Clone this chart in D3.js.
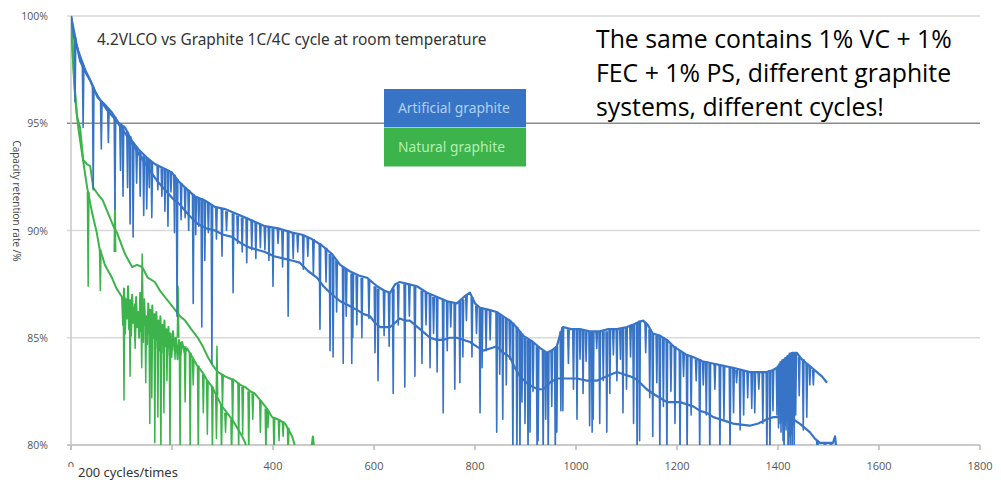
<!DOCTYPE html>
<html>
<head>
  <meta charset="utf-8">
  <script src="https://d3js.org/d3.v7.min.js"></script>
  <style>
    body { margin: 0; background: #fff; }
    svg { display: block; }
  </style>
</head>
<body>
<script type="text/javascript">
  "use strict";

  /*
    Data: [cycle, capacity retention %]
  */
  var artificial1 = [[0,100],[6,99.0],[14,98.4],[20,98.0],[28,97.5],[40,96.9],[53,96.2],[66,95.9],[81,95.5],[95,95.0],[107,94.8],[120,94.2],[133,93.8],[150,93.4],[166,93.1],[183,92.9],[200,92.7],[213,92.3],[226,92.0],[245,91.6],[265,91.4],[285,91.1],[305,91.0],[325,90.8],[345,90.6],[365,90.4],[384,90.2],[410,90.1],[438,89.9],[458,89.8],[477,89.6],[497,89.3],[517,88.9],[533,88.4],[552,88.1],[570,87.9],[586,87.8],[606,87.4],[620,87.2],[632,87.1],[642,87.5],[651,87.6],[668,87.5],[685,87.4],[705,87.1],[725,86.9],[745,86.7],[764,86.6],[778,86.9],[790,87.1],[800,86.6],[810,86.4],[828,86.3],[843,86.2],[856,86.0],[869,85.8],[882,85.5],[895,85.1],[915,84.8],[930,84.5],[942,84.3],[952,84.4],[962,84.6],[968,85.1],[974,85.5],[990,85.4],[1008,85.4],[1027,85.3],[1047,85.3],[1064,85.4],[1081,85.4],[1101,85.5],[1112,85.6],[1121,85.7],[1133,85.8],[1142,85.6],[1152,85.2],[1166,85.1],[1180,84.9],[1193,84.6],[1206,84.4],[1219,84.2],[1232,84.1],[1250,83.9],[1271,83.8],[1290,83.7],[1311,83.6],[1327,83.5],[1344,83.4],[1360,83.4],[1378,83.4],[1390,83.5],[1398,83.6],[1408,83.9],[1418,84.1],[1428,84.3],[1437,84.3],[1447,84.0],[1457,83.8],[1467,83.6],[1477,83.4],[1487,83.2],[1497,82.9]];

  var artificial2 = [[0,100],[10,98.8],[18,97.9],[28,97.4],[38,97.0],[47,96.5],[57,96.1],[72,95.6],[87,95.2],[102,94.7],[117,94.2],[136,93.5],[156,92.8],[171,92.3],[186,91.9],[201,91.5],[216,91.2],[234,90.7],[251,90.3],[268,90.1],[285,90.0],[302,89.8],[319,89.7],[337,89.4],[354,89.2],[369,89.1],[384,89.0],[402,88.8],[420,88.7],[437,88.6],[453,88.5],[470,88.1],[487,87.8],[500,87.4],[513,87.1],[523,86.9],[533,86.7],[550,86.5],[566,86.3],[580,86.1],[592,86.0],[602,85.7],[612,85.5],[622,85.5],[632,85.5],[642,85.7],[651,85.9],[661,85.8],[671,85.8],[681,85.6],[691,85.4],[701,85.2],[711,85.0],[724,84.9],[737,84.9],[750,85.0],[764,85.0],[777,84.9],[790,84.8],[803,84.6],[816,84.4],[830,84.5],[843,84.6],[856,84.3],[869,84.1],[879,83.6],[889,83.2],[902,82.9],[915,82.7],[925,82.6],[935,82.6],[948,82.9],[962,83.1],[982,83.1],[1002,83.1],[1021,83.0],[1041,83.0],[1061,83.2],[1081,83.4],[1094,83.3],[1107,83.2],[1117,83.1],[1127,82.9],[1140,82.6],[1152,82.4],[1166,82.2],[1180,82.0],[1193,82.0],[1206,82.0],[1219,81.9],[1232,81.8],[1245,81.6],[1259,81.5],[1272,81.3],[1285,81.2],[1298,81.1],[1311,81.0],[1327,80.95],[1344,80.9],[1361,81.0],[1378,81.2],[1391,81.3],[1404,81.3],[1417,81.2],[1430,81.2],[1443,81.0],[1453,80.8],[1463,80.6],[1473,80.3],[1483,80.1],[1496,80.1],[1509,80.1],[1513,80.4],[1517,79.5]];

  // single-cycle dips of the artificial cells: [cycle, from %, to %]
  var artificialSpikes = [[8,99.0,96.0],[24,97.7,94.8],[44,96.7,91.9],[60,96.0,93.8],[74,95.7,94.1],[87,95.3,91.0],[98,95.0,92.8],[103,94.9,91.6],[112,94.6,92.0],[117,94.4,90.3],[123,94.1,89.7],[130,93.9,92.2],[137,93.7,91.6],[144,93.5,90.7],[150,93.4,91.0],[155,93.3,92.0],[160,93.2,90.6],[172,93.0,91.9],[180,92.9,91.6],[186,92.9,90.9],[192,92.8,90.2],[198,92.7,91.8],[205,92.6,89.9],[210,92.4,86.0],[218,92.2,90.5],[226,92.0,90.6],[233,91.9,90.0],[242,91.7,86.6],[247,91.6,89.8],[253,91.5,90.2],[259,91.5,85.5],[265,91.4,88.6],[272,91.3,89.9],[279,91.2,83.8],[288,91.1,89.6],[299,91.0,88.8],[308,90.9,90.0],[321,90.8,87.1],[330,90.7,89.4],[339,90.6,89.0],[348,90.6,88.5],[358,90.5,89.1],[366,90.4,88.7],[375,90.3,89.2],[384,90.2,89.1],[392,90.2,88.6],[400,90.1,87.4],[410,90.1,89.4],[419,90.0,88.3],[430,90.0,86.0],[440,89.9,88.7],[449,89.8,89.0],[460,89.8,88.2],[469,89.7,88.8],[480,89.6,87.9],[493,89.4,85.4],[505,89.2,87.6],[513,88.9,84.4],[519,88.8,84.1],[526,88.6,86.2],[539,88.3,83.8],[545,88.2,86.0],[556,88.0,83.8],[558,88.0,85.0],[566,87.9,85.6],[576,87.8,85.0],[590,87.7,85.9],[602,87.4,84.3],[608,87.3,83.0],[620,87.2,85.1],[630,87.1,84.6],[638,87.3,82.4],[648,87.5,85.6],[661,87.5,82.7],[670,87.5,86.0],[681,87.4,83.2],[695,87.2,83.8],[703,87.1,85.6],[711,87.0,83.6],[718,86.9,85.2],[725,86.9,83.4],[737,86.8,81.5],[745,86.7,84.4],[752,86.7,85.5],[760,86.6,82.6],[770,86.7,82.9],[776,86.8,84.1],[783,87.0,85.8],[794,86.9,84.1],[803,86.5,85.2],[810,86.4,81.5],[814,86.4,83.6],[822,86.3,84.4],[830,86.3,84.9],[843,86.2,80.6],[849,86.1,83.3],[855,86.0,81.2],[862,85.9,82.8],[869,85.8,84.0],[875,85.7,79.5],[883,85.5,79.5],[889,85.3,79.5],[893,85.2,82.0],[899,85.0,81.0],[905,84.9,79.5],[909,84.9,80.6],[915,84.8,82.5],[923,84.6,79.5],[925,84.6,80.2],[935,84.4,79.5],[940,84.3,81.2],[945,84.3,79.5],[952,84.4,81.8],[959,84.5,79.5],[962,84.6,80.6],[970,85.3,81.6],[974,85.5,81.6],[985,85.4,83.8],[995,85.4,82.6],[1002,85.4,81.2],[1008,85.4,84.0],[1014,85.4,82.4],[1020,85.3,83.9],[1027,85.3,80.9],[1032,85.3,80.6],[1034,85.3,81.2],[1041,85.3,84.5],[1047,85.3,81.0],[1054,85.3,83.0],[1061,85.3,80.6],[1067,85.4,82.4],[1074,85.4,84.2],[1081,85.4,83.0],[1088,85.4,84.0],[1093,85.5,81.5],[1100,85.5,82.6],[1108,85.6,84.1],[1114,85.6,81.0],[1121,85.7,79.5],[1126,85.8,80.2],[1138,85.7,84.3],[1146,85.4,82.2],[1152,85.2,80.4],[1160,85.1,82.9],[1166,85.1,79.5],[1173,85.0,81.8],[1180,84.9,79.5],[1188,84.7,82.5],[1196,84.6,81.0],[1206,84.4,79.5],[1213,84.3,83.2],[1220,84.2,79.5],[1228,84.1,81.4],[1238,84.0,83.0],[1245,84.0,79.5],[1252,83.9,82.8],[1258,83.9,81.4],[1265,83.8,79.5],[1275,83.8,82.6],[1285,83.7,79.5],[1293,83.7,81.2],[1305,83.6,79.5],[1312,83.6,81.5],[1318,83.5,82.9],[1325,83.5,80.7],[1332,83.5,81.4],[1340,83.4,82.2],[1348,83.4,81.7],[1354,83.4,81.5],[1362,83.4,82.6],[1370,83.4,81.0],[1378,83.4,79.5],[1384,83.5,79.5],[1390,83.5,81.6],[1398,83.6,81.4],[1401,83.7,80.8],[1404,83.8,81.0],[1406,83.9,80.6],[1408,83.9,81.1],[1410,84.0,80.2],[1412,84.0,79.5],[1414,84.0,80.9],[1416,84.1,80.7],[1418,84.1,81.2],[1420,84.2,79.5],[1422,84.2,80.4],[1424,84.3,79.8],[1426,84.3,80.5],[1428,84.3,79.5],[1430,84.3,80.9],[1432,84.3,80.0],[1435,84.3,81.4],[1442,84.1,82.3],[1450,84.0,80.7],[1457,83.8,81.3],[1463,83.7,82.8],[1470,83.5,82.8],[1478,80.2,79.5],[1493,80.1,79.5],[1505,80.1,79.5]];

  var natural1 = [[0,100],[2,99.0],[4,97.9],[8,96.5],[12,95.3],[15,94.7],[18,94.2],[25,93.1],[32,92.0],[37,91.4],[42,90.8],[47,90.3],[51,89.9],[57,89.1],[62,88.8],[67,88.4],[74,88.1],[81,87.8],[90,87.3],[101,86.9],[103,85.6],[105,87.3],[107,85.2],[109,86.8],[111,85.9],[113,87.4],[115,85.4],[117,86.6],[119,85.1],[121,87.0],[123,85.7],[125,86.4],[127,84.9],[129,86.9],[131,85.5],[133,86.2],[135,85.0],[137,87.1],[139,85.3],[141,86.5],[143,84.8],[145,86.8],[147,85.6],[149,86.0],[151,84.7],[153,86.6],[155,85.2],[157,86.3],[159,84.6],[161,86.5],[163,85.0],[165,86.1],[167,84.5],[169,86.2],[171,84.9],[173,85.8],[175,84.4],[177,86.0],[179,84.8],[181,85.6],[183,84.3],[185,85.8],[187,84.6],[189,85.4],[191,84.2],[193,85.5],[195,84.5],[197,85.2],[199,84.1],[202,85.3],[205,84.4],[208,85.0],[211,84.0],[214,84.9],[217,84.2],[220,84.8],[225,84.3],[230,84.5],[240,84.1],[250,83.7],[260,83.4],[270,83.0],[280,82.7],[290,82.2],[299,81.8],[309,81.5],[319,81.2],[329,80.8],[339,80.4],[345,80.1],[350,79.5]];

  var natural2 = [[0,100],[3,98.5],[6,97.0],[9,96.0],[12,95.3],[18,94.8],[24,93.3],[31,93.1],[38,93.0],[44,92.0],[53,91.7],[63,91.4],[70,91.0],[77,90.6],[84,90.2],[91,89.9],[99,89.4],[107,88.9],[114,88.6],[121,88.3],[131,88.4],[141,88.3],[152,87.8],[166,87.6],[176,87.2],[186,86.9],[196,86.6],[206,86.3],[216,86.0],[226,85.8],[238,85.4],[251,85.0],[261,84.6],[271,84.1],[281,83.7],[291,83.4],[298,83.3],[305,83.2],[315,83.1],[325,83.0],[335,82.8],[345,82.7],[355,82.5],[364,82.4],[371,82.2],[378,82.0],[388,81.7],[398,81.3],[404,81.25],[410,81.2],[417,81.1],[424,81.0],[431,80.7],[438,80.4],[444,79.9],[448,79.5],[474,79.5],[479,80.4],[483,79.5]];

  var naturalSpikes = [[34,91.8,87.4],[58,89.1,87.2],[87,89.0,91.7],[105,86.9,82.1],[117,86.8,83.2],[127,86.6,84.5],[140,86.2,83.6],[141,86.3,88.9],[148,86.0,82.9],[156,85.9,81.0],[160,85.8,82.2],[166,85.7,80.1],[172,85.6,81.3],[178,85.5,79.5],[184,85.4,81.5],[190,85.3,83.0],[196,85.2,79.5],[206,85.0,84.0],[212,85.0,87.4],[216,84.8,79.5],[226,84.6,82.0],[236,84.3,79.5],[242,84.0,82.8],[252,83.7,79.5],[262,83.3,81.5],[270,83.0,80.5],[280,82.7,79.5],[288,82.3,80.3],[289,82.3,84.6],[298,81.9,79.5],[300,83.3,81.8],[306,81.5,80.6],[318,81.2,79.5],[320,83.1,80.9],[332,82.9,79.5],[340,82.7,80.5],[352,82.5,79.5],[360,82.4,81.2],[375,82.1,80.6],[386,81.7,79.5],[390,81.6,80.8],[402,81.3,79.5],[412,81.2,80.2],[420,81.1,80.4],[430,80.8,79.5]];

  var xTicks = [0, 200, 400, 600, 800, 1000, 1200, 1400, 1600, 1800];
  var yTicks = [80, 85, 90, 95, 100];
  var legendNames = ["Artificial graphite", "Natural graphite"];
  var chartTitle = "4.2VLCO vs Graphite 1C/4C cycle at room temperature";
  var yTitle = "Capacity retention rate /%";
  var xTitle = "200 cycles/times";
  var noteLines = ["The same contains 1% VC + 1%",
                   "FEC + 1% PS, different graphite",
                   "systems, different cycles!"];

  var blue = "#3874c6",
      green = "#3cb44b";

  /*
    D3 setup
  */
  var width = 1001,
      height = 488;

  var svg = d3.select("body")
    .append("svg")
      .attr("width", width)
      .attr("height", height);

  var x = d3.scaleLinear().domain([0, 1800]).range([71, 980]);
  var y = d3.scaleLinear().domain([80, 100]).range([445, 16]);

  // scale text to the width it takes in the picture
  function fit(sel, w) {
    var len = sel.node().getComputedTextLength();
    sel.attr("font-size", parseFloat(sel.attr("font-size")) * w / len);
  }

  // grid lines (the 95% one is darker)
  svg.selectAll("line.grid")
    .data(yTicks)
    .enter()
    .append("line")
      .attr("class", "grid")
      .attr("x1", x(0) - 4)
      .attr("x2", x(1800))
      .attr("y1", function (d) { return y(d); })
      .attr("y2", function (d) { return y(d); })
      .attr("stroke", function (d) { return d === 95 ? "#8a8a8a" : (d === 80 ? "#b8b8b8" : "#d9d9d9"); })
      .attr("stroke-width", 1.5);

  // y axis line
  svg.append("line")
    .attr("x1", x(0)).attr("x2", x(0))
    .attr("y1", y(100)).attr("y2", y(80) + 5)
    .attr("stroke", "#c8c8c8")
    .attr("stroke-width", 1.5);

  // x ticks
  svg.selectAll("line.xtick")
    .data(xTicks)
    .enter()
    .append("line")
      .attr("class", "xtick")
      .attr("x1", function (d) { return x(d); })
      .attr("x2", function (d) { return x(d); })
      .attr("y1", y(80))
      .attr("y2", y(80) + 5)
      .attr("stroke", "#b8b8b8")
      .attr("stroke-width", 1.5);

  // the 200 label sits under the x title box, so it is left out
  svg.selectAll("text.xlab")
    .data(xTicks.filter(function (d) { return d !== 200; }))
    .enter()
    .append("text")
      .attr("class", "xlab")
      .attr("x", function (d) { return x(d); })
      .attr("y", y(80) + 25)
      .attr("text-anchor", "middle")
      .style("font-family", "Open Sans, sans-serif")
      .style("font-size", "11px")
      .attr("fill", "#555")
      .text(function (d) { return d; });

  svg.selectAll("text.ylab")
    .data(yTicks)
    .enter()
    .append("text")
      .attr("class", "ylab")
      .attr("x", 48)
      .attr("y", function (d) { return y(d) + 4; })
      .attr("text-anchor", "end")
      .style("font-family", "Open Sans, sans-serif")
      .style("font-size", "10.5px")
      .attr("fill", "#555")
      .text(function (d) { return d + "%"; });

  // y title, reading downwards
  svg.append("text")
    .attr("transform", "translate(13,201) rotate(90)")
    .attr("text-anchor", "middle")
    .style("font-family", "Open Sans, sans-serif")
    .style("font-size", "10px")
    .attr("fill", "#444")
    .text(yTitle);

  /*
    Series
  */
  svg.append("clipPath")
      .attr("id", "plot")
    .append("rect")
      .attr("x", x(0))
      .attr("y", 0)
      .attr("width", x(1800) - x(0))
      .attr("height", y(80));

  var plot = svg.append("g").attr("clip-path", "url(#plot)");

  var line = d3.line()
    .x(function (d) { return x(d[0]); })
    .y(function (d) { return y(d[1]); });

  function spikePath(d) {
    return "M" + x(d[0] - 1.5) + "," + y(d[1]) +
           "L" + x(d[0]) + "," + y(d[2]) +
           "L" + x(d[0] + 1.5) + "," + y(d[1]);
  }

  var series = [
    { data: natural1, color: green },
    { data: natural2, color: green },
    { data: artificial2, color: blue },
    { data: artificial1, color: blue }
  ];

  plot.selectAll("path.green-spike")
    .data(naturalSpikes)
    .enter()
    .append("path")
      .attr("class", "green-spike")
      .attr("d", spikePath)
      .attr("fill", "none")
      .attr("stroke", green)
      .attr("stroke-width", 1.5)
      .attr("stroke-linejoin", "round");

  plot.selectAll("path.series")
    .data(series.slice(0, 2))
    .enter()
    .append("path")
      .attr("class", "series")
      .attr("d", function (d) { return line(d.data); })
      .attr("fill", "none")
      .attr("stroke", function (d) { return d.color; })
      .attr("stroke-width", 2)
      .attr("stroke-linejoin", "round");

  plot.selectAll("path.blue-spike")
    .data(artificialSpikes)
    .enter()
    .append("path")
      .attr("class", "blue-spike")
      .attr("d", spikePath)
      .attr("fill", "none")
      .attr("stroke", blue)
      .attr("stroke-width", 1.6)
      .attr("stroke-linejoin", "round");

  plot.selectAll("path.series2")
    .data(series.slice(2))
    .enter()
    .append("path")
      .attr("class", "series2")
      .attr("d", function (d) { return line(d.data); })
      .attr("fill", "none")
      .attr("stroke", function (d) { return d.color; })
      .attr("stroke-width", 2.2)
      .attr("stroke-linejoin", "round");

  /*
    Title, legend, x title and the note
  */
  var title = svg.append("text")
    .attr("x", 97)
    .attr("y", 45)
    .attr("font-size", 15)
    .style("font-family", "Noto Sans, sans-serif")
    .attr("fill", "#333")
    .text(chartTitle);
  fit(title, 390);

  var legendColors = [blue, green],
      legendText = ["#aed0f5", "#b6eeb4"],
      legendWidths = [112, 107];

  var legend = svg.selectAll("g.legend")
    .data(legendNames)
    .enter()
    .append("g")
      .attr("class", "legend")
      .attr("transform", function (d, i) { return "translate(384," + (89 + i * 38.5) + ")"; });

  legend.append("rect")
    .attr("width", 142)
    .attr("height", function (d, i) { return i === 0 ? 38 : 39; })
    .attr("fill", function (d, i) { return legendColors[i]; });

  legend.append("text")
    .attr("x", 14)
    .attr("y", 24)
    .attr("font-size", 14)
    .style("font-family", "Noto Sans, sans-serif")
    .attr("fill", function (d, i) { return legendText[i]; })
    .text(function (d) { return d; })
    .each(function (d, i) { fit(d3.select(this), legendWidths[i]); });

  // box with the x title, partly covering the "0" label
  svg.append("rect")
    .attr("x", 64)
    .attr("y", 467)
    .attr("width", 125)
    .attr("height", 21)
    .attr("fill", "#fff");

  var xt = svg.append("text")
    .attr("x", 78)
    .attr("y", 477)
    .attr("font-size", 14)
    .style("font-family", "Noto Sans, sans-serif")
    .attr("fill", "#333")
    .text(xTitle);
  fit(xt, 100);

  var note = svg.selectAll("text.note")
    .data(noteLines)
    .enter()
    .append("text")
      .attr("class", "note")
      .attr("x", 596)
      .attr("y", function (d, i) { return 48 + i * 34; })
      .attr("font-size", 24)
      .style("font-family", "Open Sans, sans-serif")
      .attr("fill", "#000")
      .text(function (d) { return d; });

  var first = note.filter(function (d, i) { return i === 0; });
  fit(first, 356);
  note.attr("font-size", first.attr("font-size"));
</script>
</body>
</html>
